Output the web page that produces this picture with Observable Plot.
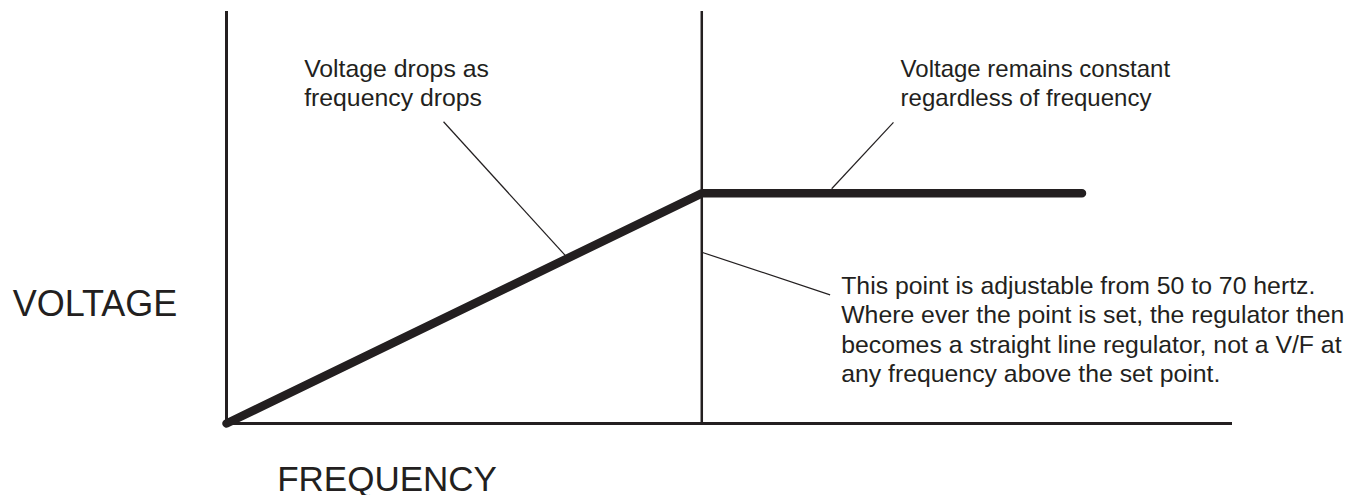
<!DOCTYPE html>
<html>
<head>
<meta charset="utf-8">
<script src="https://cdn.jsdelivr.net/npm/d3@7"></script>
<script src="https://cdn.jsdelivr.net/npm/@observablehq/plot@0.6"></script>
<style>
  html, body { margin: 0; padding: 0; background: #fff; }
  #chart svg { display: block; }
</style>
</head>
<body>
<div id="chart"></div>
<script>
// Conceptual data: frequency (Hz) vs voltage (% of rated)
const curveFreq = [0, 60, 108];
const curveVolt = [0, 100, 100];
const setPointFreq = [60];
const freqDomain = [0, 127];
const voltDomain = [0, 179];

// Annotation texts
const noteTexts = [
  "Voltage drops as\nfrequency drops",
  "Voltage remains constant\nregardless of frequency",
  "This point is adjustable from 50 to 70 hertz.\nWhere ever the point is set, the regulator then\nbecomes a straight line regulator, not a V/F at\nany frequency above the set point."
];
const noteFreq = [9.8, 85.1, 77.6];
const noteVolt = [138.1, 138.1, 17.9];
const noteLineHeight = [1.17, 1.2, 1.19];
const noteFontSize = [24.8, 24, 24.8];

// Leader lines (from text to curve)
const leaderFreq1 = [27.4, 84.2, 60];
const leaderVolt1 = [131.1, 130.8, 74.4];
const leaderFreq2 = [43.3, 76.4, 76.2];
const leaderVolt2 = [71, 102, 55.9];

// Axis labels
const yLabel = ["VOLTAGE"];
const yLabelFreq = [-6.2];
const yLabelVolt = [46.5];
const xLabel = ["FREQUENCY"];
const xLabelFreq = [6.4];
const xLabelVolt = [-29.2];

const ink = "#231f20";
const font = "'Liberation Sans', Arial, Helvetica, sans-serif";

const curve = curveFreq.map((f, i) => ({f, v: curveVolt[i]}));
const notes = noteTexts.map((t, i) => ({t, f: noteFreq[i], v: noteVolt[i], lh: noteLineHeight[i], fs: noteFontSize[i]}));
const leaders = leaderFreq1.map((f1, i) => ({f1, v1: leaderVolt1[i], f2: leaderFreq2[i], v2: leaderVolt2[i]}));

const noteMarks = notes.map(n => Plot.text([n], {
  x: "f", y: "v", text: "t",
  textAnchor: "start", lineAnchor: "bottom", lineHeight: n.lh,
  fontSize: n.fs, fill: ink, fontFamily: font
}));

const chart = Plot.plot({
  width: 1364,
  height: 495,
  marginLeft: 226,
  marginRight: 132,
  marginTop: 11,
  marginBottom: 72,
  x: {domain: freqDomain, axis: null},
  y: {domain: voltDomain, axis: null},
  style: {fontFamily: font, background: "#fff", overflow: "visible"},
  marks: [
    // axes
    Plot.ruleX([freqDomain[0]], {y1: voltDomain[0], y2: voltDomain[1], stroke: ink, strokeWidth: 3}),
    Plot.ruleY([voltDomain[0]], {x1: freqDomain[0], x2: freqDomain[1], stroke: ink, strokeWidth: 3}),
    // set point vertical
    Plot.ruleX(setPointFreq, {y1: voltDomain[0], y2: voltDomain[1], stroke: ink, strokeWidth: 2.5}),
    // leaders
    Plot.link(leaders, {x1: "f1", y1: "v1", x2: "f2", y2: "v2", stroke: ink, strokeWidth: 1.2}),
    // V/F curve
    Plot.line(curve, {x: "f", y: "v", stroke: ink, strokeWidth: 8.5, strokeLinecap: "round", strokeLinejoin: "miter"}),
    ...noteMarks,
    Plot.text(yLabel, {
      x: yLabelFreq, y: yLabelVolt, text: d => d, textAnchor: "end", lineAnchor: "bottom",
      fontSize: 36, fill: ink, fontFamily: font
    }),
    Plot.text(xLabel, {
      x: xLabelFreq, y: xLabelVolt, text: d => d, textAnchor: "start", lineAnchor: "bottom",
      fontSize: 35, fill: ink, fontFamily: font
    })
  ]
});

document.getElementById("chart").appendChild(chart);
</script>
</body>
</html>
